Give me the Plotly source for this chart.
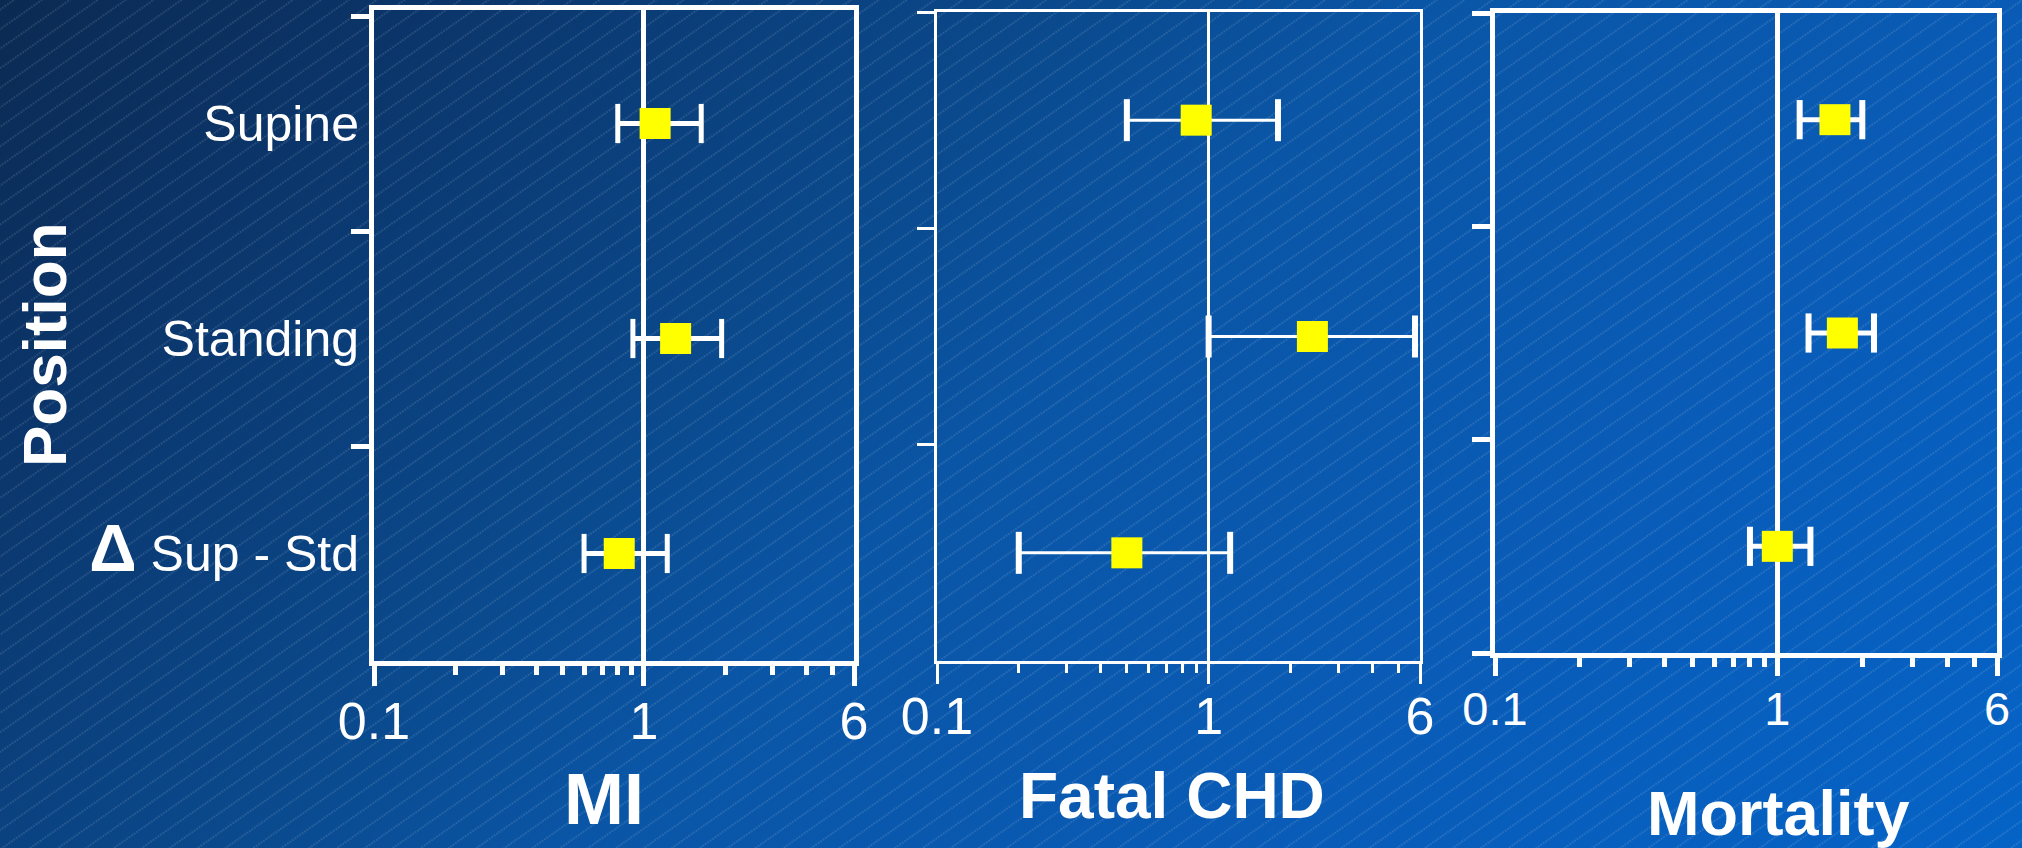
import base64
import math

import plotly.graph_objects as go

# ---- data -------------------------------------------------------------
POSITIONS = ["Supine", "Standing", "Sup - Std"]
POSITION_LABELS = ["Supine", "Standing",
                   "<span style='font-size:66px'><b>Δ</b></span> Sup - Std"]
OUTCOMES = ["MI", "Fatal CHD", "Mortality"]

MI_EST = [1.10, 1.31, 0.81]
MI_LO = [0.80, 0.91, 0.60]
MI_HI = [1.63, 1.94, 1.22]

CHD_EST = [0.90, 2.41, 0.50]
CHD_LO = [0.50, 1.00, 0.20]
CHD_HI = [1.80, 5.75, 1.20]

MORT_EST = [1.60, 1.70, 1.00]
MORT_LO = [1.20, 1.29, 0.80]
MORT_HI = [2.00, 2.20, 1.31]

X_RANGE = [0.1, 6]
X_TICKS = [0.1, 1, 6]
X_TICK_TEXT = ["0.1", "1", "6"]
X_MINOR = [0.2, 0.3, 0.4, 0.5, 0.6, 0.7, 0.8, 0.9, 2, 3, 4, 5]

# ---- styling ----------------------------------------------------------
W, H = 2022, 848
FONT = "Liberation Sans, Arial, sans-serif"
NARROW = "Liberation Sans Narrow, Arial Narrow, Liberation Sans, Arial, sans-serif"
WHITE = "#ffffff"
YELLOW = "#ffff00"

PANELS = [
    dict(est=MI_EST, lo=MI_LO, hi=MI_HI, left=374, right=854, top=10, bottom=661,
         ytop=-0.528, lw=5, ylen=18, xlen=20, mlen=9, bar=5, cap=5, caplen=28,
         tfont=52, standoff=-9, labels=True,
         title_x=604, title_y=799, title_size=72, title_font=NARROW),
    dict(est=CHD_EST, lo=CHD_LO, hi=CHD_HI, left=937, right=1420, top=12, bottom=661,
         ytop=-0.5, lw=3, ylen=17, xlen=20, mlen=9, bar=3, cap=6, caplen=30,
         tfont=52, standoff=-12, labels=False,
         title_x=1172, title_y=796, title_size=64, title_font=FONT),
    dict(est=MORT_EST, lo=MORT_LO, hi=MORT_HI, left=1495, right=1997, top=13, bottom=653,
         ytop=-0.5, lw=5, ylen=18, xlen=18, mlen=9, bar=5, cap=6, caplen=28,
         tfont=47, standoff=-7, labels=False,
         title_x=1778, title_y=813, title_size=63, title_font=FONT),
]


def background_uri():
    svg = f"""<svg xmlns="http://www.w3.org/2000/svg" width="{W}" height="{H}" viewBox="0 0 {W} {H}" preserveAspectRatio="none">
<defs>
<linearGradient id="g" gradientUnits="userSpaceOnUse" x1="0" y1="0" x2="1435" y2="1435">
<stop offset="0" stop-color="#0b2a52"/>
<stop offset="0.14" stop-color="#0b3468"/>
<stop offset="0.38" stop-color="#0a4a8e"/>
<stop offset="0.49" stop-color="#0a55a5"/>
<stop offset="0.75" stop-color="#095cb8"/>
<stop offset="1" stop-color="#0563c6"/>
</linearGradient>
<pattern id="h" patternUnits="userSpaceOnUse" width="60" height="16" patternTransform="rotate(-35)">
<line x1="0" y1="8" x2="60" y2="8" stroke="#ffffff" stroke-opacity="0.22" stroke-width="1" stroke-dasharray="2 1"/>
</pattern>
</defs>
<rect width="{W}" height="{H}" fill="url(#g)"/>
<rect width="{W}" height="{H}" fill="url(#h)"/>
</svg>"""
    return "data:image/svg+xml;base64," + base64.b64encode(svg.encode()).decode()


fig = go.Figure()
layout = dict(
    width=W, height=H, autosize=False,
    margin=dict(l=0, r=0, t=0, b=0, pad=0, autoexpand=False),
    paper_bgcolor="#0a4a8e",
    plot_bgcolor="rgba(0,0,0,0)",
    showlegend=False,
    font=dict(family=FONT, color=WHITE),
)
annotations = []

for i, p in enumerate(PANELS):
    suffix = "" if i == 0 else str(i + 1)
    xa, ya = "x" + suffix, "y" + suffix

    # confidence-interval end caps
    fig.add_trace(go.Scatter(
        x=p["lo"] + p["hi"], y=POSITIONS + POSITIONS,
        mode="markers", xaxis=xa, yaxis=ya, hoverinfo="skip",
        marker=dict(symbol="line-ns", size=p["caplen"],
                    line=dict(width=p["cap"], color=WHITE)),
    ))
    # point estimates with their interval lines
    fig.add_trace(go.Scatter(
        x=p["est"], y=POSITIONS,
        mode="markers", xaxis=xa, yaxis=ya,
        marker=dict(symbol="square", size=31, color=YELLOW, line=dict(width=0)),
        error_x=dict(type="data", symmetric=False,
                     array=[h - e for h, e in zip(p["hi"], p["est"])],
                     arrayminus=[e - l for e, l in zip(p["est"], p["lo"])],
                     color=WHITE, thickness=p["bar"], width=0),
    ))

    layout["xaxis" + suffix] = dict(
        type="log", anchor=ya, automargin=False,
        domain=[p["left"] / W, p["right"] / W],
        range=[math.log10(X_RANGE[0]), math.log10(X_RANGE[1])],
        tickmode="array", tickvals=X_TICKS, ticktext=X_TICK_TEXT,
        ticks="outside", ticklen=p["xlen"], tickwidth=p["lw"], tickcolor=WHITE,
        tickfont=dict(size=p["tfont"], color=WHITE, family=FONT),
        ticklabelstandoff=p["standoff"],
        minor=dict(tickmode="array", tickvals=X_MINOR, ticks="outside",
                   ticklen=p["mlen"], tickwidth=p["lw"], tickcolor=WHITE,
                   showgrid=False),
        showline=True, linecolor=WHITE, linewidth=p["lw"], mirror=True,
        showgrid=True, gridcolor=WHITE, gridwidth=p["lw"],
        zeroline=False, fixedrange=True,
    )
    layout["yaxis" + suffix] = dict(
        type="category", anchor=xa, automargin=False,
        categoryorder="array", categoryarray=POSITIONS,
        domain=[1 - p["bottom"] / H, 1 - p["top"] / H],
        range=[len(POSITIONS) - 0.5, p["ytop"]],
        tickmode="array", tickvals=POSITIONS, ticktext=POSITION_LABELS,
        tickson="boundaries",
        ticks="outside", ticklen=p["ylen"], tickwidth=p["lw"], tickcolor=WHITE,
        showticklabels=p["labels"],
        tickfont=dict(size=50, color=WHITE, family=FONT),
        showline=True, linecolor=WHITE, linewidth=p["lw"], mirror=True,
        showgrid=False, zeroline=False, fixedrange=True,
    )
    annotations.append(dict(
        text=f"<b>{OUTCOMES[i]}</b>", xref="paper", yref="paper",
        x=p["title_x"] / W, y=1 - p["title_y"] / H,
        xanchor="center", yanchor="middle", showarrow=False,
        font=dict(size=p["title_size"], color=WHITE, family=p["title_font"]),
    ))

annotations.append(dict(
    text="<b>Position</b>", xref="paper", yref="paper",
    x=44 / W, y=1 - 345 / H, textangle=-90,
    xanchor="center", yanchor="middle", showarrow=False,
    font=dict(size=62, color=WHITE, family=FONT),
))
layout["annotations"] = annotations
layout["images"] = [dict(
    source=background_uri(), xref="paper", yref="paper",
    x=0, y=1, sizex=1, sizey=1, xanchor="left", yanchor="top",
    sizing="stretch", layer="below",
)]

fig.update_layout(**layout)
fig.write_html("out.html")
